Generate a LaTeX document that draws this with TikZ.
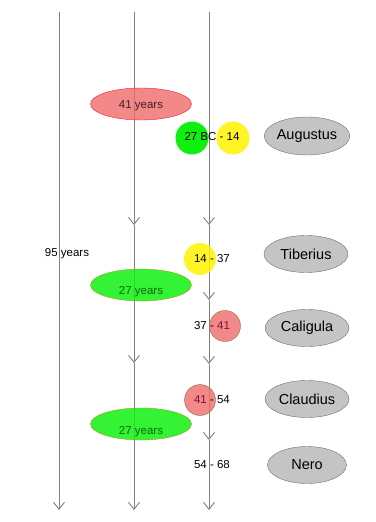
\documentclass[tikz,border=0pt]{standalone}
\usepackage{fontspec}
\setmainfont{Liberation Sans}
\usetikzlibrary{arrows.meta,shapes.geometric}
\definecolor{lineg}{HTML}{808080}
\definecolor{namefill}{HTML}{C4C4C4}
\definecolor{nameline}{HTML}{707070}
\definecolor{salmon}{HTML}{F06A6A}
\definecolor{redline}{HTML}{E82030}
\definecolor{olive}{HTML}{A89A20}
\definecolor{brownline}{HTML}{9A6A40}
\definecolor{brightgreen}{HTML}{10F010}
\definecolor{darkgreentext}{HTML}{0A6A0A}
\definecolor{darkredtext}{HTML}{801030}
\definecolor{darkredell}{HTML}{402020}
\tikzset{
  tl/.style={draw=lineg, line width=0.9pt, -{Straight Barb[length=7pt,width=11pt]}},
  emperor/.style={ellipse, draw=nameline, fill=namefill, minimum width=84pt, minimum height=37pt, inner sep=0pt, font=\fontsize{14.5}{16}\selectfont},
  lbl/.style={font=\fontsize{11.5}{13}\selectfont, inner sep=0pt},
  redell/.style={ellipse, draw=redline, fill=salmon, fill opacity=0.8, minimum width=101pt, minimum height=32pt, inner sep=0pt},
  greenell/.style={ellipse, draw=olive, fill=brightgreen, fill opacity=0.85, minimum width=101pt, minimum height=32pt, inner sep=0pt},
  greenc/.style={circle, fill=brightgreen, minimum size=33pt, inner sep=0pt},
  yellowc/.style={circle, fill=yellow, fill opacity=0.85, minimum size=33pt, inner sep=0pt},
  redc/.style={circle, draw=brownline, fill=salmon, fill opacity=0.8, minimum size=31pt, inner sep=0pt},
}
\begin{document}
\begin{tikzpicture}[x=1pt,y=-1pt]
\useasboundingbox (0,0) rectangle (375,522);
% coordinates
\coordinate (a0) at (59,12);
\coordinate (a1) at (59,510);
\coordinate (b0) at (134,12);
\coordinate (b1) at (134,225);
\coordinate (b2) at (134,363);
\coordinate (b3) at (134,510);
\coordinate (c0) at (209,12);
\coordinate (c1) at (209,225);
\coordinate (c2) at (209,300);
\coordinate (c3) at (209,364);
\coordinate (c4) at (209,440);
\coordinate (c5) at (209,510);
% shapes beneath lines
\node[greenc] (gA) at (192,138) {};
% lines
\draw[tl] (a0) -- (a1);
\draw[tl] (b0) -- (b1);
\draw[tl] (b1) -- (b2);
\draw[tl] (b2) -- (b3);
\draw[tl] (c0) -- (c1);
\draw[tl] (c1) -- (c2);
\draw[tl] (c2) -- (c3);
\draw[tl] (c3) -- (c4);
\draw[tl] (c4) -- (c5);
% translucent shapes
\node[redell] (e41) at (141,104) {};
\node[greenell] (e27a) at (141,285) {};
\node[greenell] (e27b) at (141,424) {};
\node[yellowc] (yA) at (233,138) {};
\node[yellowc, minimum size=32pt] (yB) at (200,259) {};
\node[redc] (rA) at (225,326) {};
\node[redc] (rB) at (200,400) {};
% labels
\node[lbl, text=darkredell] (t41) at (141,106) {41 years};
\node[lbl] (t95) at (67,254) {95 years};
\node[lbl, text=darkgreentext] (t27a) at (141,292) {27 years};
\node[lbl, text=darkgreentext] (t27b) at (141,432) {27 years};
\node[lbl] (d1) at (212,137) {27 BC - 14};
\node[lbl] (d2) at (212,259) {14 - 37};
\node[lbl] (d3) at (212,326) {37 - \textcolor{darkredtext}{41}};
\node[lbl] (d4) at (212,400) {\textcolor{darkredtext}{41} - 54};
\node[lbl] (d5) at (212,465) {54 - 68};
% emperors
\node[emperor, minimum width=85pt, minimum height=38pt] (aug) at (307,136) {Augustus};
\node[emperor] (tib) at (306,254) {Tiberius};
\node[emperor] (cal) at (307,328) {Caligula};
\node[emperor] (cla) at (307,399) {Claudius};
\node[emperor, minimum width=79pt] (nero) at (307,465) {Nero};
\end{tikzpicture}
\end{document}
